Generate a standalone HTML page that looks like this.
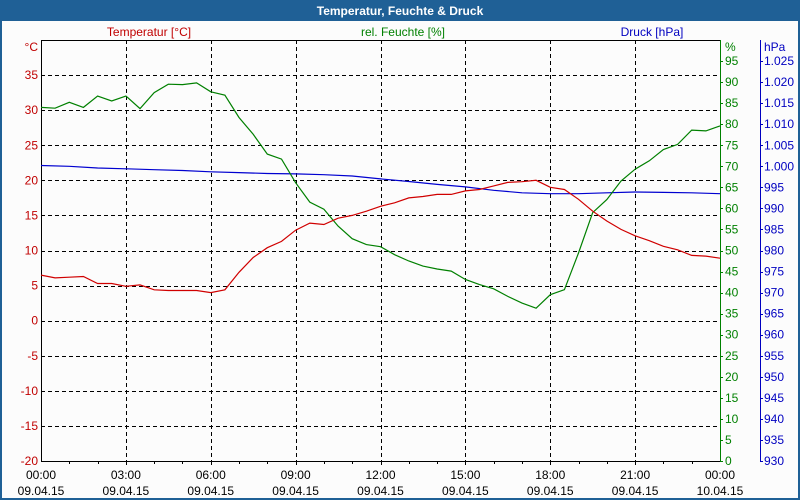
<!DOCTYPE html>
<html><head><meta charset="utf-8"><style>
body{margin:0;background:#fff}
svg{display:block;font-family:"Liberation Sans",sans-serif}
</style></head><body>
<svg id="c" width="800" height="500" viewBox="0 0 800 500" xmlns="http://www.w3.org/2000/svg">
<rect x="0" y="0" width="800" height="500" fill="#1f6096"/>
<rect x="2" y="21" width="796" height="477" fill="#fcfcfc"/>
<text x="400" y="15" text-anchor="middle" fill="#fff" font-size="12" font-weight="bold">Temperatur, Feuchte &amp; Druck</text>
<text x="149" y="36" text-anchor="middle" fill="#c00000" font-size="12">Temperatur [°C]</text>
<text x="403" y="36" text-anchor="middle" fill="#008000" font-size="12">rel. Feuchte [%]</text>
<text x="652" y="36" text-anchor="middle" fill="#0000c0" font-size="12">Druck [hPa]</text>
<g id="grid"></g>
<g id="axes"></g>
<g id="series"></g>
</svg>
<script>
const hours=[0,0.5,1,1.5,2,2.5,3,3.5,4,4.5,5,5.5,6,6.5,7,7.5,8,8.5,9,9.5,10,10.5,11,11.5,12,12.5,13,13.5,14,14.5,15,15.5,16,16.5,17,17.5,18,18.5,19,19.5,20,20.5,21,21.5,22,22.5,23,23.5,24];
const temperature=[6.5,6.1,6.2,6.3,5.3,5.3,4.9,5.1,4.4,4.3,4.3,4.3,4.0,4.4,6.9,9.0,10.4,11.3,12.9,13.9,13.7,14.6,15.0,15.6,16.3,16.8,17.5,17.7,18.0,18.0,18.5,18.7,19.2,19.7,19.8,20.0,19.0,18.7,17.3,15.6,14.2,13.0,12.1,11.4,10.6,10.1,9.3,9.2,8.9];
const humidity=[84.0,83.8,85.2,84.0,86.7,85.5,86.7,83.7,87.5,89.5,89.4,89.8,87.7,86.9,81.6,77.6,72.9,71.7,66.1,61.5,59.8,55.8,52.8,51.4,50.9,49.0,47.5,46.3,45.6,45.1,43.1,41.9,40.9,39.1,37.5,36.3,39.5,40.7,49.4,59.0,62.1,66.5,69.3,71.3,74.0,75.2,78.6,78.4,79.6];
const pressureHours=[0,1,2,3,4,5,6,7,8,9,10,11,12,13,14,15,16,17,18,19,20,21,22,23,24];
const pressure=[1000.2,1000.0,999.6,999.4,999.2,999.0,998.7,998.5,998.3,998.2,998.0,997.7,997.0,996.4,995.7,995.1,994.3,993.7,993.5,993.5,993.7,993.9,993.8,993.7,993.5];
const tempTicks=[40,35,30,25,20,15,10,5,0,-5,-10,-15,-20];
const humTicks=[95,90,85,80,75,70,65,60,55,50,45,40,35,30,25,20,15,10,5,0];
const presTicks=[1025,1020,1015,1010,1005,1000,995,990,985,980,975,970,965,960,955,950,945,940,935,930];
const timeLabels=["00:00","03:00","06:00","09:00","12:00","15:00","18:00","21:00","00:00"];
const dateLabels=["09.04.15","09.04.15","09.04.15","09.04.15","09.04.15","09.04.15","09.04.15","09.04.15","10.04.15"];

const PL=41,PR=720,PT=40,PB=461;
const xS=h=>PL+(PR-PL)*h/24;
const yT=v=>PT+(PB-PT)*(40-v)/60;
const yH=v=>PT+(PB-PT)*(100-v)/100;
const yP=v=>PT+(PB-PT)*(1030-v)/100;
const NS="http://www.w3.org/2000/svg";
function mk(tag,parent,attrs){const e=document.createElementNS(NS,tag);for(const k in attrs)e.setAttribute(k,attrs[k]);document.getElementById(parent).appendChild(e);return e;}

let plotBg=mk('rect','grid',{x:PL,y:PT,width:PR-PL,height:PB-PT,fill:'#fcfcfc'});


tempTicks.forEach(v=>{
  if(v===40||v===-20)return;
  const l=mk('line','grid',{x1:PL,x2:PR,y1:Math.round(yT(v))+0.5,y2:Math.round(yT(v))+0.5,stroke:'#000','stroke-dasharray':'4,3','stroke-width':1});
  
  
});
for(let i=1;i<8;i++){
  const x=Math.round(xS(i*3))+0.5;
  const l=mk('line','grid',{x1:x,x2:x,y1:PT,y2:PB,stroke:'#000','stroke-dasharray':'4,3','stroke-width':1});
  
  
}
let axisLeft=mk('path','axes',{d:`M${PL+0.5} ${PT}V${PB+0.5}H${PR}`,stroke:'#000',fill:'none'});


let plotTop=mk('line','axes',{x1:PL,x2:PR,y1:PT+0.5,y2:PT+0.5,stroke:'#000'});


let axisHum=mk('line','axes',{x1:PR+0.5,x2:PR+0.5,y1:PT,y2:PB+1,stroke:'#008000'});


let axisPres=mk('line','axes',{x1:760.5,x2:760.5,y1:PT,y2:PB+1,stroke:'#0000c0'});


for(let h=1;h<24;h++){
  const x=Math.round(xS(h))+0.5;
  const t=mk('line','axes',{x1:x,x2:x,y1:PB,y2:PB+(h%3===0?4:3),stroke:'#000'});
  
  
}
timeLabels.forEach((s,i)=>{
  const x=xS(i*3);
  const t=mk('text','axes',{x:x,y:479,'text-anchor':'middle','font-size':12,fill:'#000'});
  t.textContent=s;
  
  
  const d=mk('text','axes',{x:x,y:495,'text-anchor':'middle','font-size':12,fill:'#000'});
  d.textContent=dateLabels[i];
  
  
});
let unitT=mk('text','axes',{x:38,y:51,'text-anchor':'end','font-size':12,fill:'#c00000'});
unitT.textContent='°C';


tempTicks.forEach(v=>{
  if(v===40)return;
  const t=mk('text','axes',{x:38,y:yT(v)+4,'text-anchor':'end','font-size':12,fill:'#c00000'});
  t.textContent=v;
  
  
});
let unitH=mk('text','axes',{x:725,y:51,'font-size':12,fill:'#008000'});
unitH.textContent='%';


humTicks.forEach(v=>{
  const tk=mk('line','axes',{x1:PR,x2:PR+3,y1:Math.round(yH(v))+0.5,y2:Math.round(yH(v))+0.5,stroke:'#008000'});
  
  
  const t=mk('text','axes',{x:725,y:yH(v)+4,'font-size':12,fill:'#008000'});
  t.textContent=v;
  
  
});
let unitP=mk('text','axes',{x:764,y:51,'font-size':12,fill:'#0000c0'});
unitP.textContent='hPa';


presTicks.forEach(v=>{
  const tk=mk('line','axes',{x1:760,x2:763,y1:Math.round(yP(v))+0.5,y2:Math.round(yP(v))+0.5,stroke:'#0000c0'});
  
  
  const t=mk('text','axes',{x:764,y:yP(v)+4,'font-size':12,fill:'#0000c0'});
  t.textContent=v>=1000?('1.'+String(v-1000).padStart(3,'0')):v;
  
  
});
function drawLine(xs,ys,fy,color,name){
  const d=xs.map((h,i)=>(i?'L':'M')+xS(h).toFixed(1)+' '+fy(ys[i]).toFixed(1)).join('');
  const p=mk('path','series',{d:d,stroke:color,fill:'none','stroke-width':1.2});
  
  
}
drawLine(pressureHours,pressure,yP,'#0000d0','pressure-line');
drawLine(hours,humidity,yH,'#008000','humidity-line');
drawLine(hours,temperature,yT,'#d00000','temperature-line');
</script>
</body></html>
